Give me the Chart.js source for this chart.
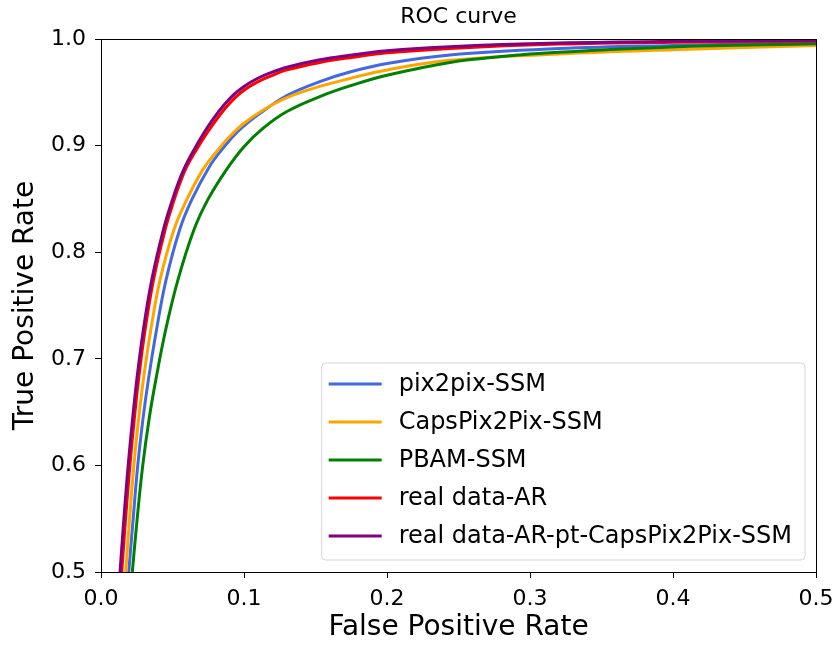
<!DOCTYPE html>
<html>
<head>
<meta charset="utf-8">
<title>ROC curve</title>
<script src="https://cdn.jsdelivr.net/npm/chart.js@4/dist/chart.umd.min.js"></script>
<style>
  html, body { margin: 0; padding: 0; background: #fff; }
</style>
</head>
<body>
<canvas id="roc" width="835" height="647"></canvas>
<script>
// ===== DATA =====
const seriesNames = [
  "pix2pix-SSM",
  "CapsPix2Pix-SSM",
  "PBAM-SSM",
  "real data-AR",
  "real data-AR-pt-CapsPix2Pix-SSM"
];
const seriesColors = ["#4169e1", "#ffa500", "#008000", "#ff0000", "#800080"];

const xTicks = [0.0, 0.1, 0.2, 0.3, 0.4, 0.5];
const yTicks = [0.5, 0.6, 0.7, 0.8, 0.9, 1.0];

// pix2pix-SSM
const fprPix2pix = [0.0194, 0.0225, 0.0257, 0.0292, 0.0331, 0.0388, 0.0455, 0.0550, 0.0634, 0.0757, 0.0850, 0.0940, 0.104, 0.113, 0.130, 0.153, 0.174, 0.200, 0.244, 0.320, 0.400, 0.500];
const tprPix2pix = [0.500, 0.550, 0.600, 0.642, 0.680, 0.727, 0.774, 0.821, 0.849, 0.880, 0.897, 0.911, 0.923, 0.932, 0.947, 0.960, 0.969, 0.977, 0.985, 0.991, 0.994, 0.9965];

// CapsPix2Pix-SSM
const fprCaps = [0.0173, 0.0200, 0.0230, 0.0262, 0.0296, 0.0348, 0.0413, 0.0510, 0.0599, 0.0710, 0.0800, 0.0900, 0.100, 0.113, 0.130, 0.153, 0.174, 0.200, 0.244, 0.320, 0.400, 0.500];
const tprCaps = [0.500, 0.550, 0.600, 0.642, 0.680, 0.727, 0.774, 0.821, 0.849, 0.877, 0.893, 0.9085, 0.921, 0.933, 0.945, 0.9555, 0.963, 0.971, 0.980, 0.986, 0.990, 0.994];

// PBAM-SSM
const fprPbam = [0.0219, 0.0253, 0.0292, 0.0338, 0.0383, 0.0452, 0.0538, 0.0650, 0.0750, 0.0880, 0.100, 0.113, 0.130, 0.153, 0.174, 0.200, 0.244, 0.280, 0.320, 0.400, 0.500];
const tprPbam = [0.500, 0.550, 0.600, 0.645, 0.680, 0.727, 0.774, 0.821, 0.850, 0.878, 0.899, 0.916, 0.932, 0.946, 0.956, 0.966, 0.978, 0.9835, 0.9875, 0.9925, 0.9955];

// real data-AR
const fprReal = [0.0145, 0.0172, 0.0202, 0.0234, 0.0262, 0.0308, 0.0367, 0.0448, 0.0506, 0.0552, 0.0599, 0.0662, 0.0732, 0.0802, 0.0872, 0.0942, 0.1012, 0.1092, 0.1182, 0.130, 0.153, 0.174, 0.200, 0.244, 0.320, 0.400, 0.500];
const tprReal = [0.500, 0.550, 0.600, 0.645, 0.680, 0.727, 0.774, 0.821, 0.847, 0.865, 0.880, 0.895, 0.910, 0.9235, 0.9355, 0.9455, 0.953, 0.9595, 0.965, 0.971, 0.978, 0.9825, 0.987, 0.9912, 0.9952, 0.997, 0.9982];

// real data-AR-pt-CapsPix2Pix-SSM
const fprRealPt = [0.0133, 0.0160, 0.0190, 0.0222, 0.0250, 0.0296, 0.0355, 0.0436, 0.0494, 0.0540, 0.0587, 0.0650, 0.0720, 0.0790, 0.0860, 0.0930, 0.100, 0.108, 0.117, 0.130, 0.153, 0.174, 0.200, 0.244, 0.320, 0.400, 0.500];
const tprRealPt = [0.500, 0.550, 0.600, 0.645, 0.680, 0.727, 0.774, 0.821, 0.847, 0.865, 0.880, 0.896, 0.912, 0.926, 0.938, 0.948, 0.9555, 0.962, 0.9675, 0.9735, 0.9805, 0.9847, 0.989, 0.9928, 0.9962, 0.9978, 0.9986];

const fprAll = [fprPix2pix, fprCaps, fprPbam, fprReal, fprRealPt];
const tprAll = [tprPix2pix, tprCaps, tprPbam, tprReal, tprRealPt];

// ===== CHART =====
Chart.defaults.font.family = "'DejaVu Sans', sans-serif";
Chart.defaults.color = "#000";

const datasets = seriesNames.map((name, i) => ({
  label: name,
  data: fprAll[i].map((x, k) => ({ x: x, y: tprAll[i][k] })),
  borderColor: seriesColors[i],
  backgroundColor: seriesColors[i],
  borderWidth: 3,
  pointRadius: 0,
  showLine: true,
  fill: false,
  tension: 0.4,
  order: seriesNames.length - i // last series painted on top
}));

// frame + matplotlib-like legend box in lower right
const frameLegend = {
  id: "frameLegend",
  afterDatasetsDraw(chart) {
    const ctx = chart.ctx;
    const a = chart.chartArea;
    ctx.save();
    ctx.strokeStyle = "#000";
    ctx.lineWidth = 1;
    ctx.strokeRect(Math.round(a.left) + 0.5, Math.round(a.top) + 0.5,
      Math.round(a.right - a.left), Math.round(a.bottom - a.top));

    ctx.font = "24px 'DejaVu Sans', sans-serif";
    const sets = chart.data.datasets;
    const textW = Math.max(...sets.map(d => ctx.measureText(d.label).width));
    const rowH = 38;
    const w = textW + 90;
    const h = sets.length * rowH + 7;
    const x0 = a.right - 11 - w;
    const y0 = a.bottom - 12 - h;
    ctx.beginPath();
    ctx.roundRect(x0, y0, w, h, 4);
    ctx.fillStyle = "rgba(255,255,255,0.8)";
    ctx.fill();
    ctx.strokeStyle = "#d5d5d5";
    ctx.stroke();

    sets.forEach((d, i) => {
      const cy = y0 + 21 + i * rowH;
      ctx.beginPath();
      ctx.moveTo(x0 + 7, cy);
      ctx.lineTo(x0 + 60, cy);
      ctx.strokeStyle = d.borderColor;
      ctx.lineWidth = 3;
      ctx.stroke();
      ctx.fillStyle = "#000";
      ctx.textBaseline = "middle";
      ctx.textAlign = "left";
      ctx.fillText(d.label, x0 + 77, cy + 1);
    });
    ctx.restore();
  }
};

const tickFmt = v => Number(v).toFixed(1);

new Chart(document.getElementById("roc").getContext("2d"), {
  type: "scatter",
  data: { datasets: datasets },
  options: {
    responsive: false,
    animation: false,
    devicePixelRatio: 1,
    layout: { padding: { left: 0, right: 19, top: 0, bottom: 0 } },
    plugins: {
      legend: { display: false },
      tooltip: { enabled: false },
      title: {
        display: true,
        fullSize: false,
        text: "ROC curve",
        font: { size: 22, weight: "normal" },
        color: "#000",
        padding: { top: 4, bottom: 8.6 }
      }
    },
    scales: {
      x: {
        type: "linear",
        min: 0,
        max: 0.5,
        afterBuildTicks: s => { s.ticks = xTicks.map(v => ({ value: v })); },
        afterFit: s => { s.height = 75; s.paddingLeft = 0; s.paddingRight = 0; },
        ticks: { callback: tickFmt, font: { size: 22 }, color: "#000", padding: 8, maxRotation: 0 },
        grid: { drawOnChartArea: false, tickLength: 6, color: "#000", tickWidth: 1 },
        border: { display: true, color: "#000", width: 1 },
        title: {
          display: true,
          text: "False Positive Rate",
          font: { size: 28 },
          color: "#000",
          padding: { top: 0, bottom: 2 }
        }
      },
      y: {
        type: "linear",
        min: 0.5,
        max: 1.0,
        afterBuildTicks: s => { s.ticks = yTicks.map(v => ({ value: v })); },
        afterFit: s => { s.width = 101; s.paddingTop = 0; s.paddingBottom = 0; },
        ticks: { callback: tickFmt, font: { size: 22 }, color: "#000", padding: 9 },
        grid: { drawOnChartArea: false, tickLength: 6, color: "#000", tickWidth: 1 },
        border: { display: true, color: "#000", width: 1 },
        title: {
          display: true,
          text: "True Positive Rate",
          font: { size: 28 },
          color: "#000",
          padding: { top: 9, bottom: 0 }
        }
      }
    }
  },
  plugins: [frameLegend]
});
</script>
</body>
</html>
